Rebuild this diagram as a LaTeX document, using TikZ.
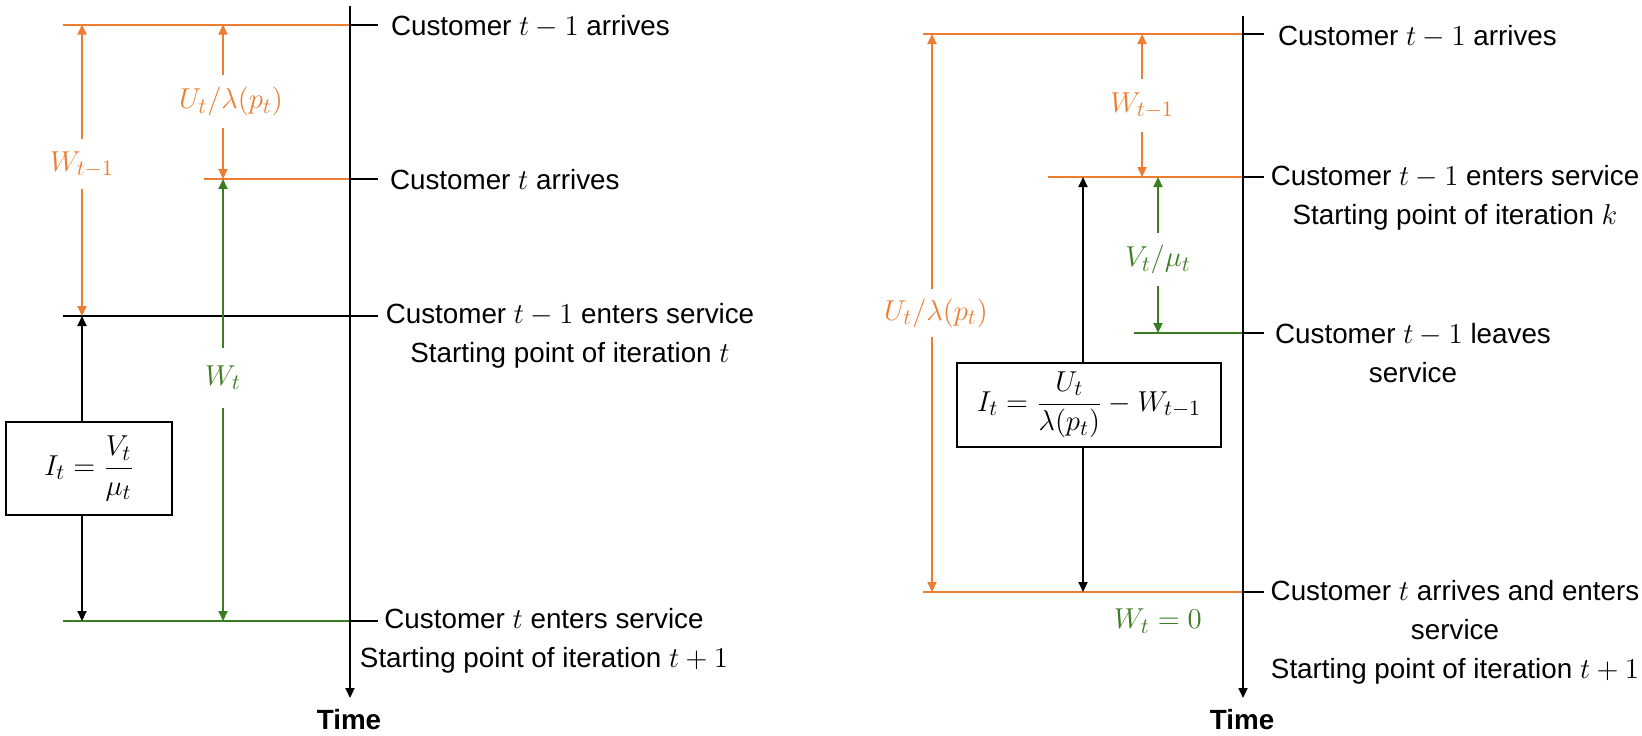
\documentclass[tikz,border=0pt]{standalone}
\usepackage{fontspec}
\setmainfont{Liberation Sans}
\usetikzlibrary{arrows.meta}
\definecolor{orng}{HTML}{ED7D31}
\definecolor{grn}{HTML}{3B7D23}
\tikzset{
  tipend/.style={-{Triangle[length=5pt,width=4.5pt]}},
  tipboth/.style={{Triangle[length=5pt,width=4.5pt]}-{Triangle[length=5pt,width=4.5pt]}},
  gaplbl/.style={fill=white, inner xsep=1pt, inner ysep=6pt, font=\fontsize{15}{18}\selectfont},
  evtlbl/.style={align=center, inner sep=0pt},
  eqbox/.style={draw, line width=0.7pt, inner sep=0pt, font=\fontsize{15}{18}\selectfont},
  timelbl/.style={font=\fontsize{13.9}{17}\selectfont\bfseries},
}
\begin{document}
\begin{tikzpicture}[x=0.5pt,y=-0.5pt,line width=1pt,font=\fontsize{13.9}{19.5}\selectfont]
\useasboundingbox (0,0) rectangle (1642,735);

% ================= LEFT PANEL =================
\coordinate (axLtop) at (350,6);
\coordinate (axLbot) at (350,698);
% horizontal event lines
\coordinate (l1s) at (63,24.5);  \coordinate (l1a) at (350,24.5); \coordinate (l1e) at (378,24.5);
\coordinate (l2s) at (204,179);  \coordinate (l2a) at (350,179);  \coordinate (l2e) at (378,179);
\coordinate (l3s) at (63,316);   \coordinate (l3e) at (378,316);
\coordinate (l4s) at (63,621);   \coordinate (l4a) at (350,621);  \coordinate (l4e) at (378,621);
\coordinate (cA) at (82,0);
\coordinate (cB) at (223,0);

\draw[orng] (l1s) -- (l1a);
\draw (l1a) -- (l1e);
\draw[orng] (l2s) -- (l2a);
\draw (l2a) -- (l2e);
\draw (l3s) -- (l3e);
\draw[grn] (l4s) -- (l4a);
\draw (l4a) -- (l4e);

\draw[tipend] (axLtop) -- (axLbot);
\node[timelbl] (timeL) at (349,720) {Time};

% arrows
\draw[tipboth,orng] (cA |- l1s) -- node[gaplbl,yshift=3pt] {$W_{t-1}$} (cA |- l3s);
\draw[tipboth,orng] (cB |- l1s) -- node[gaplbl,xshift=4pt] {$U_t\big/\lambda(p_t)$} (cB |- l2s);
\draw[tipboth,grn] (cB |- l2s) -- node[gaplbl,pos=0.45,inner ysep=9pt] {$W_t$} (cB |- l4s);

\node[eqbox,minimum width=83pt,minimum height=46.5pt] (lbox) at (89,468.5) {$I_t=\displaystyle\frac{V_t}{\mu_t}$};
\draw[tipend] (lbox.north -| cA) -- (cA |- l3s);
\draw[tipend] (lbox.south -| cA) -- (cA |- l4s);

% event labels
\node[evtlbl,anchor=west] (ev1) at (390,27) {Customer $t-1$ arrives};
\node[evtlbl,anchor=west] (ev2) at (389,180) {Customer $t$ arrives};
\node[evtlbl] (ev3) at (570,336) {Customer $t-1$ enters service\\Starting point of iteration $t$};
\node[evtlbl] (ev4) at (544,641) {Customer $t$ enters service\\Starting point of iteration $t+1$};

% ================= RIGHT PANEL =================
\coordinate (axRtop) at (1243,16);
\coordinate (axRbot) at (1243,698);
\coordinate (r1s) at (923,34);   \coordinate (r1a) at (1243,34);  \coordinate (r1e) at (1264,34);
\coordinate (r2s) at (1048,177); \coordinate (r2a) at (1243,177); \coordinate (r2e) at (1264,177);
\coordinate (r3s) at (1134,333); \coordinate (r3a) at (1243,333); \coordinate (r3e) at (1264,333);
\coordinate (r4s) at (923,592);  \coordinate (r4a) at (1243,592); \coordinate (r4e) at (1264,592);
\coordinate (cU) at (932,0);
\coordinate (cW) at (1142,0);
\coordinate (cV) at (1158,0);
\coordinate (cK) at (1083,0);

\draw[orng] (r1s) -- (r1a);
\draw (r1a) -- (r1e);
\draw[orng] (r2s) -- (r2a);
\draw (r2a) -- (r2e);
\draw[grn] (r3s) -- (r3a);
\draw (r3a) -- (r3e);
\draw[orng] (r4s) -- (r4a);
\draw (r4a) -- (r4e);

\draw[tipend] (axRtop) -- (axRbot);
\node[timelbl] (timeR) at (1242,720) {Time};

\draw[tipboth,orng] (cU |- r1s) -- node[gaplbl,xshift=2pt,inner ysep=5pt] {$U_t\big/\lambda(p_t)$} (cU |- r4s);
\draw[tipboth,orng] (cW |- r1s) -- node[gaplbl,inner ysep=7pt] {$W_{t-1}$} (cW |- r2s);
\draw[tipboth,grn] (cV |- r2s) -- node[gaplbl,pos=0.53,inner ysep=6pt] {$V_t\big/\mu_t$} (cV |- r3s);

\node[eqbox,minimum width=132pt,minimum height=42pt] (rbox) at (1089,405) {$I_t=\displaystyle\frac{U_t}{\lambda(p_t)}-W_{t-1}$};
\draw[tipend] (rbox.north -| cK) -- (cK |- r2s);
\draw[tipend] (rbox.south -| cK) -- (cK |- r4s);

\node[text=grn,font=\fontsize{15}{18}\selectfont] (wt0) at (1158,621) {$W_t=0$};

\node[evtlbl,anchor=west] (rv1) at (1277,37) {Customer $t-1$ arrives};
\node[evtlbl] (rv2) at (1455,198) {Customer $t-1$ enters service\\Starting point of iteration $k$};
\node[evtlbl] (rv3) at (1413,353.5) {Customer $t-1$ leaves\\service};
\node[evtlbl] (rv4) at (1455,632) {Customer $t$ arrives and enters\\service\\Starting point of iteration $t+1$};
\end{tikzpicture}
\end{document}
